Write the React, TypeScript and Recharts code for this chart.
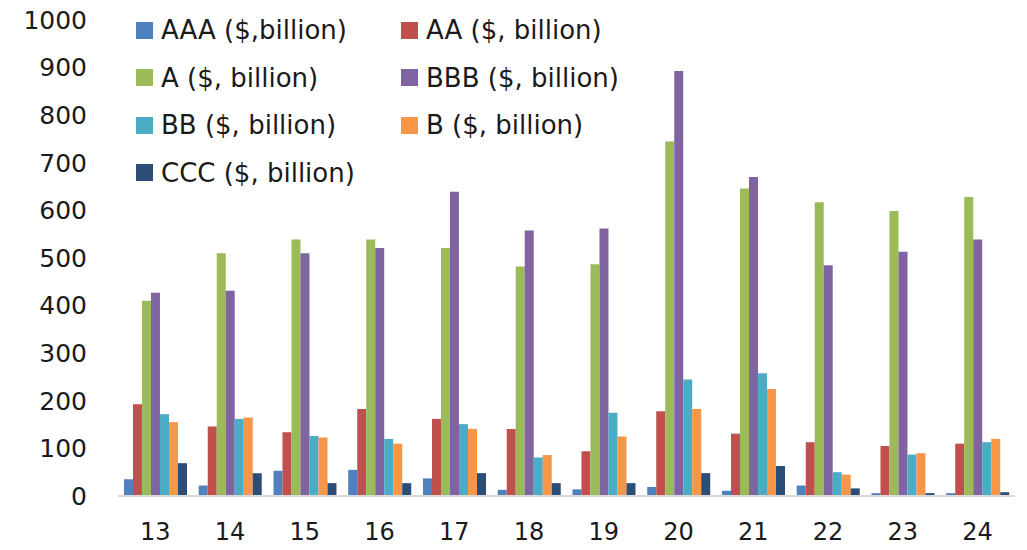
import { BarChart, Bar, XAxis, YAxis, Legend } from "recharts";

// issuance by rating bucket, years '13 to '24
const years = ["13", "14", "15", "16", "17", "18", "19", "20", "21", "22", "23", "24"];
const aaa = [35, 22, 53, 55, 37, 13, 14, 19, 11, 22, 6, 6];
const aa = [193, 146, 134, 183, 162, 141, 94, 178, 131, 113, 105, 110];
const singleA = [410, 510, 539, 539, 521, 482, 487, 745, 646, 617, 599, 628];
const bbb = [427, 431, 510, 521, 639, 558, 562, 893, 670, 485, 513, 539];
const bb = [172, 162, 126, 120, 151, 81, 175, 245, 258, 50, 87, 113];
const singleB = [155, 165, 123, 110, 141, 86, 125, 183, 225, 45, 90, 120];
const ccc = [69, 48, 27, 27, 48, 27, 27, 48, 63, 16, 6, 8];
const yTicks = [0, 100, 200, 300, 400, 500, 600, 700, 800, 900, 1000];

const series = [
  { key: "aaa", name: "AAA ($,billion)", color: "#4F81BD", values: aaa },
  { key: "aa", name: "AA ($, billion)", color: "#C0504D", values: aa },
  { key: "a", name: "A ($, billion)", color: "#9BBB59", values: singleA },
  { key: "bbb", name: "BBB ($, billion)", color: "#8064A2", values: bbb },
  { key: "bb", name: "BB ($, billion)", color: "#4BACC6", values: bb },
  { key: "b", name: "B ($, billion)", color: "#F79646", values: singleB },
  { key: "ccc", name: "CCC ($, billion)", color: "#2C4D75", values: ccc },
];

const data = years.map((year, i) => {
  const row: Record<string, string | number> = { year };
  series.forEach(s => { row[s.key] = s.values[i]; });
  return row;
});

// two-column legend sitting inside the plot, top-left
function GridLegend() {
  return (
    <div style={{ position: "relative", width: 1027, height: 200 }}>
      {series.map((s, i) => {
        const col = i % 2;
        const row = Math.floor(i / 2);
        return (
          <div
            key={s.key}
            style={{
              position: "absolute",
              left: col === 0 ? 136 : 401,
              top: 13 + row * 47.5,
              height: 34,
              display: "flex",
              alignItems: "center",
              whiteSpace: "nowrap",
            }}
          >
            <span style={{ width: 17, height: 17, background: s.color, display: "inline-block", marginRight: 8 }} />
            <span style={{ fontSize: 26, color: "#1a1a1a", lineHeight: "34px" }}>{s.name}</span>
          </div>
        );
      })}
    </div>
  );
}

export default function App() {
  return (
    <div style={{ position: "absolute", left: 0, top: 0, width: 1027, height: 550, background: "#fff", fontFamily: "'DejaVu Sans', sans-serif" }}>
      <BarChart
        width={1027}
        height={550}
        data={data}
        margin={{ top: 20, right: 12, left: 0, bottom: 0 }}
        barCategoryGap="8%"
        barGap={0}
      >
        <XAxis
          dataKey="year"
          height={54}
          tickLine={false}
          axisLine={{ stroke: "#d9d9d9", strokeWidth: 2 }}
          tickMargin={21}
          tick={{ fill: "#1a1a1a", fontSize: 24 }}
        />
        <YAxis
          width={118}
          domain={[0, 1000]}
          ticks={yTicks}
          tickLine={false}
          axisLine={false}
          tickMargin={25}
          tick={{ fill: "#1a1a1a", fontSize: 25 }}
        />
        <Legend
          verticalAlign="middle"
          align="center"
          content={() => <GridLegend />}
          wrapperStyle={{ position: "absolute", top: 0, left: 0, width: 1027 }}
        />
        {series.map(s => (
          <Bar key={s.key} dataKey={s.key} name={s.name} fill={s.color} isAnimationActive={false} />
        ))}
      </BarChart>
    </div>
  );
}
